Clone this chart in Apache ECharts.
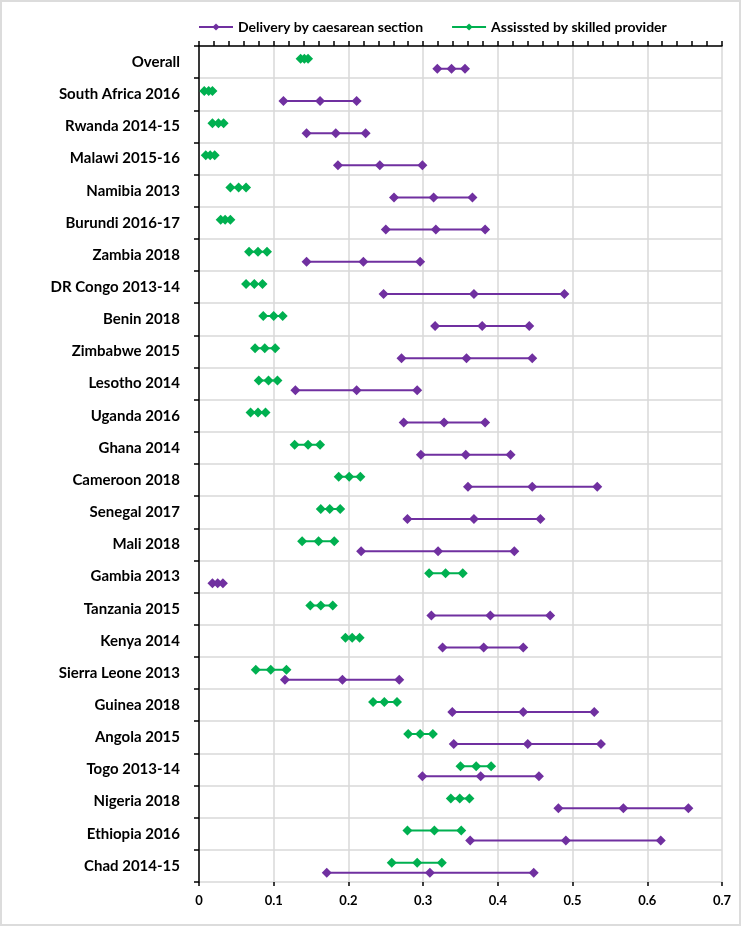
<!DOCTYPE html>
<html>
<head>
<meta charset="utf-8">
<script src="https://cdn.jsdelivr.net/npm/echarts@6/dist/echarts.min.js"></script>
<style>
  body { margin: 0; background: #fff; }
  #wrap { position: relative; width: 742px; height: 926px; }
  #chart { position: absolute; left: 0; top: 0; width: 742px; height: 926px; }
  #frame { position: absolute; left: 0; top: 0; width: 741px; height: 926px; box-sizing: border-box;
           border: 2px solid #dcdcdc; pointer-events: none; }
</style>
</head>
<body>
<div id="wrap">
  <div id="chart"></div>
  <div id="frame"></div>
</div>
<script>
// survey rows, top to bottom
const categories = [
  'Overall', 'South Africa 2016', 'Rwanda 2014-15', 'Malawi 2015-16', 'Namibia 2013',
  'Burundi 2016-17', 'Zambia 2018', 'DR Congo 2013-14', 'Benin 2018', 'Zimbabwe 2015',
  'Lesotho 2014', 'Uganda 2016', 'Ghana 2014', 'Cameroon 2018', 'Senegal 2017',
  'Mali 2018', 'Gambia 2013', 'Tanzania 2015', 'Kenya 2014', 'Sierra Leone 2013',
  'Guinea 2018', 'Angola 2015', 'Togo 2013-14', 'Nigeria 2018', 'Ethiopia 2016', 'Chad 2014-15'
]

// Delivery by caesarean section (low / estimate / high)
const caesLow = [0.319, 0.113, 0.144, 0.186, 0.261, 0.250, 0.144, 0.247, 0.316, 0.271, 0.129, 0.274, 0.297,
  0.360, 0.279, 0.217, 0.018, 0.311, 0.326, 0.115, 0.339, 0.341, 0.299, 0.481, 0.363, 0.171]
const caesMid = [0.338, 0.162, 0.183, 0.242, 0.314, 0.317, 0.220, 0.368, 0.379, 0.358, 0.211, 0.328, 0.357,
  0.446, 0.368, 0.320, 0.025, 0.390, 0.381, 0.192, 0.434, 0.440, 0.377, 0.568, 0.491, 0.309]
const caesHigh = [0.356, 0.211, 0.223, 0.299, 0.366, 0.383, 0.296, 0.489, 0.442, 0.446, 0.292, 0.383, 0.417,
  0.533, 0.457, 0.422, 0.032, 0.470, 0.434, 0.268, 0.529, 0.538, 0.455, 0.655, 0.618, 0.448]

// Assissted by skilled provider (low / estimate / high)
const skillLow = [0.136, 0.007, 0.018, 0.009, 0.042, 0.029, 0.067, 0.063, 0.086, 0.075, 0.080, 0.069, 0.128,
  0.187, 0.163, 0.138, 0.308, 0.149, 0.196, 0.076, 0.233, 0.280, 0.350, 0.337, 0.279, 0.258]
const skillMid = [0.141, 0.013, 0.026, 0.015, 0.053, 0.035, 0.079, 0.074, 0.100, 0.088, 0.093, 0.079, 0.146,
  0.201, 0.175, 0.160, 0.330, 0.163, 0.205, 0.096, 0.248, 0.296, 0.371, 0.349, 0.315, 0.292]
const skillHigh = [0.146, 0.018, 0.033, 0.021, 0.063, 0.042, 0.091, 0.085, 0.112, 0.102, 0.105, 0.089, 0.162,
  0.216, 0.189, 0.181, 0.353, 0.179, 0.215, 0.117, 0.265, 0.313, 0.391, 0.362, 0.351, 0.325]

const xTickLabels = ['0', '0.1', '0.2', '0.3', '0.4', '0.5', '0.6', '0.7']

const PURPLE = '#7030a0'
const GREEN = '#00b050'
const FONT = 'Lato'

// vertical placement inside each category band
const CAES_OFFSET = 0.71
const SKILL_OFFSET = 0.40

function rowSeries(name, color, low, mid, high, offset) {
  return categories.map((c, i) => ({
    name: name,
    type: 'line',
    xAxisIndex: 0,
    yAxisIndex: 1,
    symbol: 'diamond',
    symbolSize: [10, 10],
    showSymbol: true,
    lineStyle: { color: color, width: 2 },
    itemStyle: { color: color },
    emphasis: { disabled: true },
    data: [[low[i], i + offset], [mid[i], i + offset], [high[i], i + offset]],
  }))
}

const chart = echarts.init(document.getElementById('chart'))
chart.setOption({
  animation: false,
  textStyle: { fontFamily: FONT },
  legend: {
    top: 15,
    left: 193,
    itemWidth: 34,
    itemHeight: 9,
    itemGap: 28,
    textStyle: { fontFamily: FONT, fontWeight: 'bold', fontSize: 14, color: '#000' },
    data: ['Delivery by caesarean section', 'Assissted by skilled provider'],
  },
  grid: { left: 199, right: 20, top: 46, bottom: 44 },
  xAxis: [
    {
      type: 'value',
      min: 0,
      max: 0.7,
      interval: 0.1,
      axisLine: { show: true, lineStyle: { color: '#000', width: 1.5 } },
      axisTick: { show: true, inside: true, length: 5, lineStyle: { color: '#000', width: 1.5 } },
      minorTick: { show: true, splitNumber: 5, length: 5, lineStyle: { color: '#000', width: 1.5 } },
      splitLine: { show: true, lineStyle: { color: '#d9d9d9', width: 1.5 } },
      axisLabel: {
        margin: 12,
        fontFamily: FONT,
        fontWeight: 'bold',
        fontSize: 13,
        color: '#000',
        formatter: (v) => xTickLabels[Math.round(v * 10)],
      },
    },
    {
      type: 'value',
      position: 'bottom',
      min: 0,
      max: 0.7,
      interval: 0.1,
      axisLine: { show: false },
      axisTick: { show: true, inside: false, length: 4, lineStyle: { color: '#000', width: 1.5 } },
      axisLabel: { show: false },
      splitLine: { show: false },
    },
  ],
  yAxis: [
    {
      type: 'category',
      inverse: true,
      data: categories,
      boundaryGap: true,
      axisLine: { show: true, lineStyle: { color: '#000', width: 1.5 } },
      axisTick: { show: true, length: 5, lineStyle: { color: '#000', width: 1.5 } },
      splitLine: { show: true, lineStyle: { color: '#d9d9d9', width: 1.5 } },
      axisLabel: {
        margin: 19,
        fontFamily: FONT,
        fontWeight: 'bold',
        fontSize: 15,
        color: '#000',
      },
    },
    {
      type: 'value',
      inverse: true,
      min: 0,
      max: categories.length,
      show: false,
    },
  ],
  series: [
    ...rowSeries('Delivery by caesarean section', PURPLE, caesLow, caesMid, caesHigh, CAES_OFFSET),
    ...rowSeries('Assissted by skilled provider', GREEN, skillLow, skillMid, skillHigh, SKILL_OFFSET),
  ],
})
</script>
</body>
</html>
